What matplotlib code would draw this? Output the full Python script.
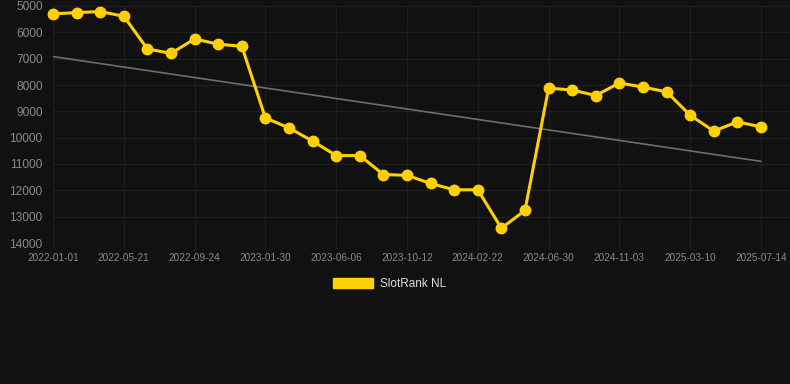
import numpy as np
import matplotlib.pyplot as plt
from matplotlib.patches import Patch

# rank values (lower is better, axis inverted)
ranks = [5300, 5250, 5210, 5390, 6630, 6800, 6250, 6450, 6530, 9250,
         9630, 10130, 10680, 10680, 11400, 11430, 11740, 11980, 11980, 13440,
         12760, 8120, 8190, 8400, 7920, 8080, 8260, 9150, 9750, 9400, 9590]
tick_labels = ['2022-01-01', '2022-05-21', '2022-09-24', '2023-01-30', '2023-06-06',
               '2023-10-12', '2024-02-22', '2024-06-30', '2024-11-03', '2025-03-10',
               '2025-07-14']
trend_ends = [6920, 10900]
y_ticks = [5000, 6000, 7000, 8000, 9000, 10000, 11000, 12000, 13000, 14000]

bg = '#111111'
gold = '#FFD100'
x = np.arange(len(ranks))

fig = plt.figure(figsize=(7.9, 3.84), dpi=100, facecolor=bg)
ax = fig.add_axes([53 / 790, 1 - 243 / 384, 1 - 53 / 790, 237 / 384])
ax.set_facecolor(bg)

# trend line
ax.plot([x[0], x[-1]], trend_ends, color='#6e6e6e', lw=1.2, zorder=2)
ax.plot(x, ranks, color=gold, lw=2.2, marker='o', ms=7.5, zorder=3, clip_on=False)

ax.set_ylim(14000, 5000)
ax.set_xlim(0, (790 - 53) / 23.6)
ax.set_yticks(y_ticks)
ax.set_xticks(x[::3])
ax.set_xticklabels(tick_labels)

ax.grid(True, color='#1f1f1f', lw=1.0, zorder=0)
for s in ax.spines.values():
    s.set_visible(False)
ax.tick_params(axis='y', length=0, pad=7.5, labelsize=8.6, labelcolor='#8a8a8a',
               labelfontfamily='Liberation Sans')
ax.tick_params(axis='x', length=4, color='#222222', pad=3, labelsize=7.2,
               labelcolor='#8a8a8a', labelfontfamily='Liberation Sans')

fig.legend(handles=[Patch(facecolor=gold, edgecolor=gold, label='SlotRank NL')],
           loc='center', bbox_to_anchor=(0.493, 1 - 284 / 384), frameon=False,
           handlelength=3.4, handleheight=1.0, handletextpad=0.6,
           prop={'family': 'Liberation Sans', 'size': 8.5}, labelcolor='#dddddd')

fig.savefig('out.png', dpi=100, facecolor=bg)
